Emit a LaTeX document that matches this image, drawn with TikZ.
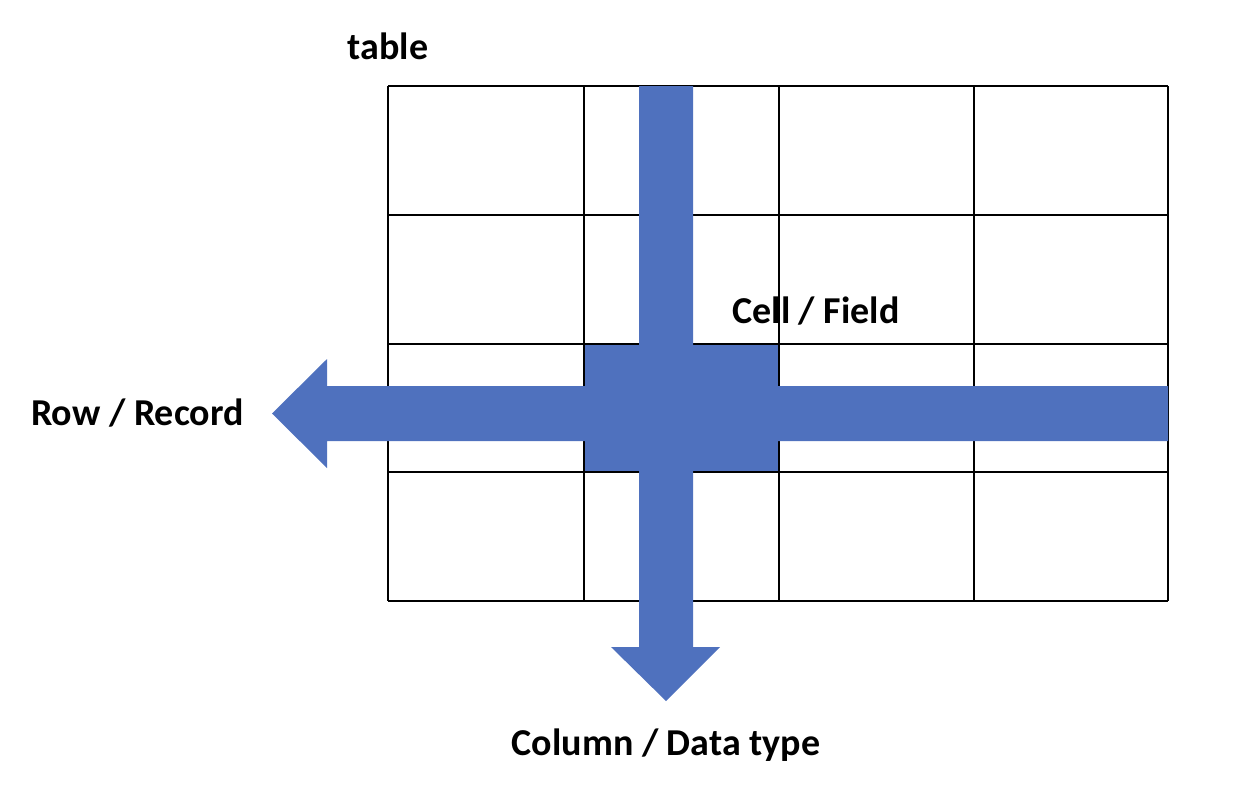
\documentclass[tikz,border=0pt]{standalone}
\usepackage{fontspec}
\setmainfont{Carlito}
\usetikzlibrary{positioning}
\definecolor{arrowblue}{HTML}{4F71BE}
\tikzset{lbl/.style={font=\bfseries\fontsize{19}{23}\selectfont, inner sep=0pt},
  bigarrow/.style={fill=arrowblue, draw=none}}

\begin{document}
\begin{tikzpicture}[x=0.5pt, y=-0.5pt]
  \useasboundingbox (0,0) rectangle (1236,788);
  % highlighted cell
  \node[fill=arrowblue, minimum width=97.5pt, minimum height=64pt, inner sep=0pt, anchor=north west] (cell) at (584,344) {};
  % grid
  \foreach \x in {388,584,779,974,1168}{\draw[line width=1pt] (\x,86) -- (\x,601);}
  \foreach \y in {86,215,344,472,601}{\draw[line width=1pt] (388,\y) -- (1168,\y);}
  % row arrow
  \coordinate (rowtip) at (272,413.5);
  \fill[bigarrow] (1168,386) -- (327,386) -- (327,359) -- (rowtip) -- (327,468) -- (327,441) -- (1168,441) -- cycle;
  % column arrow
  \coordinate (coltip) at (666,701);
  \fill[bigarrow] (639,86) -- (639,647) -- (611,647) -- (coltip) -- (720,647) -- (693,647) -- (693,86) -- cycle;
  % labels
  \node[lbl] (tbl) at (388,46) {table};
  \node[lbl] (celllbl) at (816,311) {Cell / Field};
  \node[lbl, left=14pt of rowtip] (rowlbl) {Row / Record};
  \node[lbl, below=13.5pt of coltip] (collbl) {Column / Data type};
\end{tikzpicture}
\end{document}
